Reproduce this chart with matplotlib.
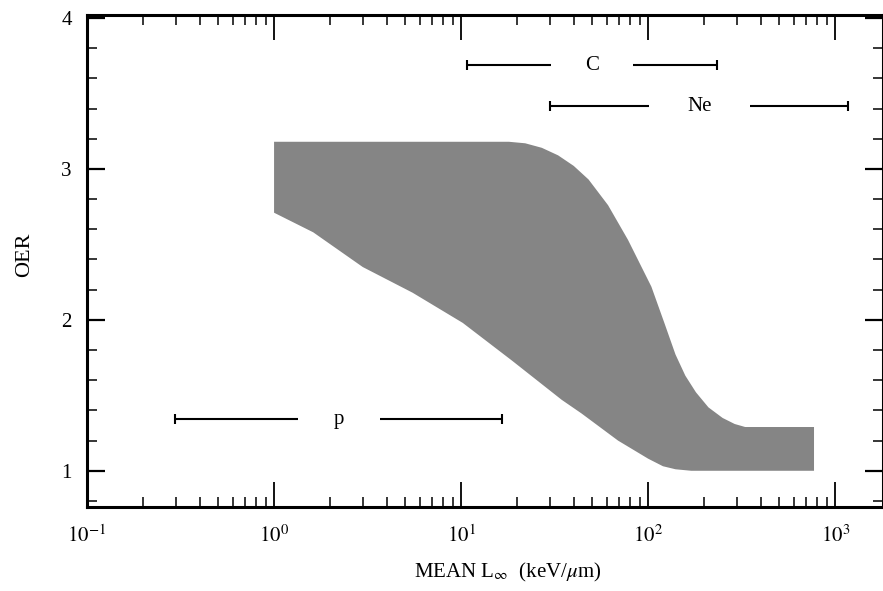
import matplotlib
matplotlib.use("Agg")
import matplotlib.pyplot as plt
import numpy as np

plt.rcParams['font.family'] = ['Liberation Serif', 'DejaVu Serif']
plt.rcParams['mathtext.fontset'] = 'stix'

# ---- data ----
upper_x = [1.0, 18, 22, 27, 33, 40, 48, 61, 78, 104, 122, 140, 158, 180, 210, 250, 290, 330, 770]
upper_y = [3.18, 3.18, 3.17, 3.14, 3.09, 3.02, 2.93, 2.76, 2.53, 2.22, 1.98, 1.77, 1.63, 1.52, 1.42, 1.35, 1.31, 1.29, 1.29]
lower_x = [1.0, 1.62, 2.98, 5.5, 10.2, 18.7, 34.5, 44, 69, 100, 120, 140, 170, 770]
lower_y = [2.71, 2.58, 2.35, 2.18, 1.98, 1.73, 1.47, 1.38, 1.20, 1.08, 1.03, 1.01, 1.0, 1.0]

range_labels = ['p', 'C', 'Ne']
range_lo = [0.297, 10.8, 29.9]
range_hi = [16.6, 234, 1175]
range_y = [1.34, 3.686, 3.414]

xtick_vals = [0.1, 1, 10, 100, 1000]
xtick_labels = [r'$10^{-1}$', r'$10^{0}$', r'$10^{1}$', r'$10^{2}$', r'$10^{3}$']
ytick_vals = [1, 2, 3, 4]
ytick_labels = ['1', '2', '3', '4']

# ---- figure ----
fig = plt.figure(figsize=(8.83, 5.91), dpi=100)
ax = fig.add_axes([87/883, 84/591, 796/883, 492/591])
ax.set_xscale('log')
ax.set_xlim(0.1, 1800)
ax.set_ylim(0.76, 4.02)

# shaded band
px = list(upper_x) + list(lower_x[::-1])
py = list(upper_y) + list(lower_y[::-1])
ax.fill(px, py, facecolor='#858585', edgecolor='none', zorder=1)

# range bars with labels
gap = {'p': 0.22, 'C': 0.22, 'Ne': 0.27}
for lab, lo, hi, yv in zip(range_labels, range_lo, range_hi, range_y):
    c = np.sqrt(lo * hi)
    g = 10 ** gap[lab]
    ax.plot([lo, c / g], [yv, yv], color='black', lw=1.5, solid_capstyle='butt')
    ax.plot([c * g, hi], [yv, yv], color='black', lw=1.5, solid_capstyle='butt')
    ax.plot([lo, hi], [yv, yv], ls='none', marker='|', ms=7, mew=1.5, color='black')
    ax.text(c, yv, lab, ha='center', va='center', fontsize=15)

# ticks
ax.set_xticks(xtick_vals)
ax.set_xticklabels(xtick_labels)
ax.set_yticks(ytick_vals)
ax.set_yticklabels(ytick_labels)
ax.yaxis.set_minor_locator(matplotlib.ticker.MultipleLocator(0.2))
ax.xaxis.set_minor_locator(matplotlib.ticker.LogLocator(base=10, subs=np.arange(2, 10)))
ax.xaxis.set_minor_formatter(matplotlib.ticker.NullFormatter())

ax.tick_params(axis='x', which='major', direction='in', length=18, width=1.3,
               top=True, bottom=True, labelsize=15, pad=13)
ax.tick_params(axis='x', which='minor', direction='in', length=7, width=1.1,
               top=True, bottom=True)
ax.tick_params(axis='y', which='major', direction='in', length=13, width=1.6,
               left=True, right=True, labelsize=15, pad=11)
ax.tick_params(axis='y', which='minor', direction='in', length=7, width=1.1,
               left=True, right=True)

for s in ax.spines.values():
    s.set_linewidth(2.2)

ax.set_xlabel(r'MEAN L$_{\infty}$  (keV/$\mu$m)', fontsize=15)
ax.xaxis.set_label_coords(0.528, -0.11)
ax.set_ylabel('OER', fontsize=16)
ax.yaxis.set_label_coords(-0.066, 0.512)

fig.savefig('out.png', dpi=100)
